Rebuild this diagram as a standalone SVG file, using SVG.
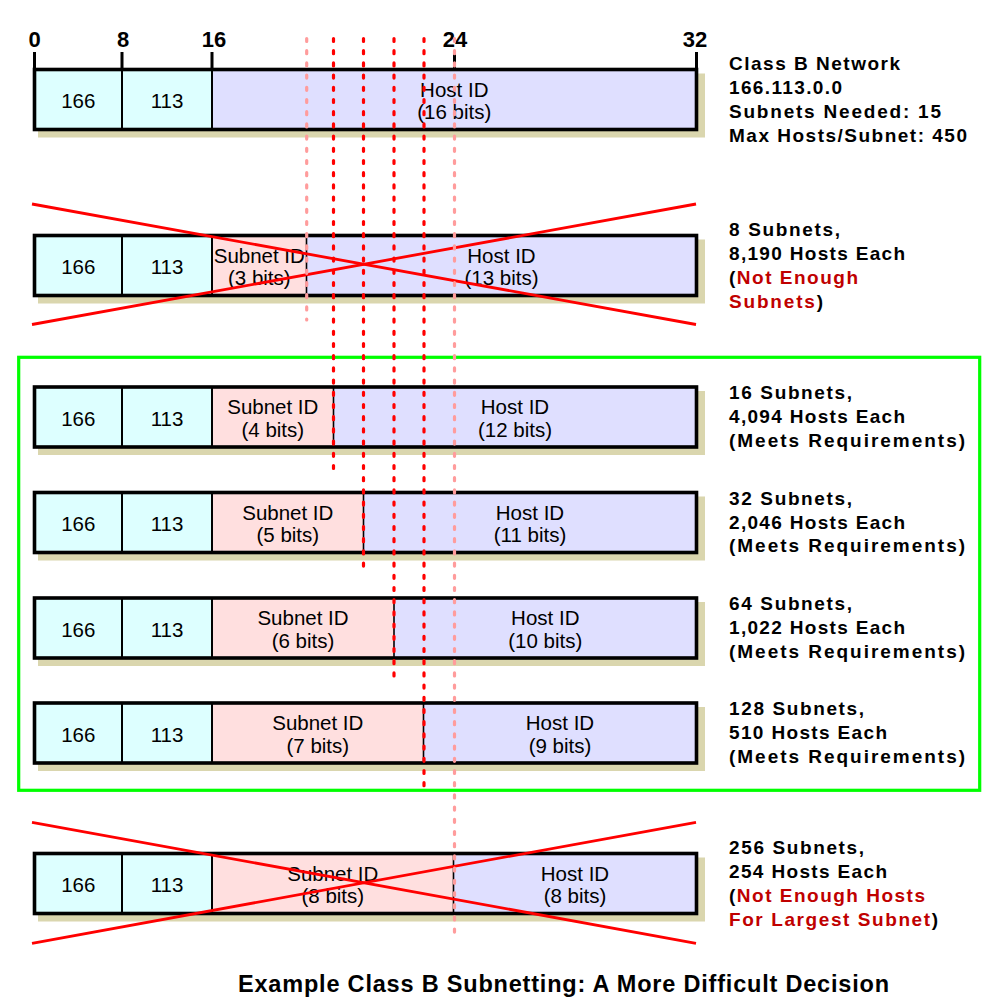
<svg xmlns="http://www.w3.org/2000/svg" width="1000" height="1001" viewBox="0 0 1000 1001">
<style>
text{font-family:"Liberation Sans",Arial,sans-serif;fill:#000}
.cell{font-size:20.5px;text-anchor:middle}
.side{font-size:19px;font-weight:bold}
.num{font-size:22px;font-weight:bold;text-anchor:middle}
.title{font-size:23.5px;font-weight:bold}
.red{fill:#C00000}
.shadow{fill:#DAD6AE}
.net{fill:#DDFFFF}
.sub{fill:#FFDFDF}
.host{fill:#DFDFFF}
.div{stroke:#000;stroke-width:2}
.sdiv{stroke:#000;stroke-width:1.6}
.outline{fill:none;stroke:#000;stroke-width:3.6}
.tick{stroke:#000;stroke-width:3}
.x{stroke:#FF0000;stroke-width:2.8}
.dr{stroke:#FF0000;stroke-width:3.2;stroke-dasharray:3 9.2;stroke-linecap:round;fill:none}
.dp{stroke:#FF9C9C;stroke-width:3.2;stroke-dasharray:3 9.2;stroke-linecap:round;fill:none}
.green{fill:none;stroke:#00FF00;stroke-width:3.2}
</style>

<g id="scale">
<line class="tick" x1="34.5" y1="52" x2="34.5" y2="70"/>
<line class="tick" x1="122" y1="52" x2="122" y2="70"/>
<line class="tick" x1="212" y1="52" x2="212" y2="70"/>
<line class="tick" x1="454.5" y1="54" x2="454.5" y2="70"/>
<line class="tick" x1="696.5" y1="52" x2="696.5" y2="70"/>
<text class="num" x="34.5" y="47">0</text>
<text class="num" x="123" y="47">8</text>
<text class="num" x="214" y="47">16</text>
<text class="num" x="455" y="47">24</text>
<text class="num" x="695" y="47">32</text>
</g>

<g id="row1">
<rect class="shadow" x="38" y="73.5" width="667" height="64"/>
<rect class="net" x="34.5" y="69.5" width="87.5" height="60"/>
<rect class="net" x="122" y="69.5" width="90" height="60"/>
<rect class="host" x="212" y="69.5" width="484.5" height="60"/>
<line class="div" x1="122" y1="69.5" x2="122" y2="129.5"/>
<line class="div" x1="212" y1="69.5" x2="212" y2="129.5"/>
<rect class="outline" x="34.5" y="69.5" width="662" height="60"/>
<text class="cell" x="78.3" y="108">166</text>
<text class="cell" x="167" y="108">113</text>
<text class="cell" x="454.3" y="96.5">Host ID</text>
<text class="cell" x="454.3" y="119.3">(16 bits)</text>
</g>

<g id="row2">
<rect class="shadow" x="38" y="239.5" width="667" height="64"/>
<rect class="net" x="34.5" y="235.5" width="87.5" height="60"/>
<rect class="net" x="122" y="235.5" width="90" height="60"/>
<rect class="sub" x="212" y="235.5" width="94.5" height="60"/>
<rect class="host" x="306.5" y="235.5" width="390" height="60"/>
<line class="div" x1="122" y1="235.5" x2="122" y2="295.5"/>
<line class="div" x1="212" y1="235.5" x2="212" y2="295.5"/>
<line class="sdiv" x1="306.5" y1="235.5" x2="306.5" y2="295.5"/>
<rect class="outline" x="34.5" y="235.5" width="662" height="60"/>
<text class="cell" x="78.3" y="274">166</text>
<text class="cell" x="167" y="274">113</text>
<text class="cell" x="259.3" y="262.5">Subnet ID</text>
<text class="cell" x="259.3" y="285.3">(3 bits)</text>
<text class="cell" x="501.5" y="262.5">Host ID</text>
<text class="cell" x="501.5" y="285.3">(13 bits)</text>
</g>

<g id="row3">
<rect class="shadow" x="38" y="391" width="667" height="64"/>
<rect class="net" x="34.5" y="387" width="87.5" height="60"/>
<rect class="net" x="122" y="387" width="90" height="60"/>
<rect class="sub" x="212" y="387" width="121.5" height="60"/>
<rect class="host" x="333.5" y="387" width="363" height="60"/>
<line class="div" x1="122" y1="387" x2="122" y2="447"/>
<line class="div" x1="212" y1="387" x2="212" y2="447"/>
<line class="sdiv" x1="333.5" y1="387" x2="333.5" y2="447"/>
<rect class="outline" x="34.5" y="387" width="662" height="60"/>
<text class="cell" x="78.3" y="425.5">166</text>
<text class="cell" x="167" y="425.5">113</text>
<text class="cell" x="272.8" y="414">Subnet ID</text>
<text class="cell" x="272.8" y="436.8">(4 bits)</text>
<text class="cell" x="515" y="414">Host ID</text>
<text class="cell" x="515" y="436.8">(12 bits)</text>
</g>

<g id="row4">
<rect class="shadow" x="38" y="496.5" width="667" height="64"/>
<rect class="net" x="34.5" y="492.5" width="87.5" height="60"/>
<rect class="net" x="122" y="492.5" width="90" height="60"/>
<rect class="sub" x="212" y="492.5" width="151.5" height="60"/>
<rect class="host" x="363.5" y="492.5" width="333" height="60"/>
<line class="div" x1="122" y1="492.5" x2="122" y2="552.5"/>
<line class="div" x1="212" y1="492.5" x2="212" y2="552.5"/>
<line class="sdiv" x1="363.5" y1="492.5" x2="363.5" y2="552.5"/>
<rect class="outline" x="34.5" y="492.5" width="662" height="60"/>
<text class="cell" x="78.3" y="531">166</text>
<text class="cell" x="167" y="531">113</text>
<text class="cell" x="287.8" y="519.5">Subnet ID</text>
<text class="cell" x="287.8" y="542.3">(5 bits)</text>
<text class="cell" x="530" y="519.5">Host ID</text>
<text class="cell" x="530" y="542.3">(11 bits)</text>
</g>

<g id="row5">
<rect class="shadow" x="38" y="602" width="667" height="64"/>
<rect class="net" x="34.5" y="598" width="87.5" height="60"/>
<rect class="net" x="122" y="598" width="90" height="60"/>
<rect class="sub" x="212" y="598" width="182" height="60"/>
<rect class="host" x="394" y="598" width="302.5" height="60"/>
<line class="div" x1="122" y1="598" x2="122" y2="658"/>
<line class="div" x1="212" y1="598" x2="212" y2="658"/>
<line class="sdiv" x1="394" y1="598" x2="394" y2="658"/>
<rect class="outline" x="34.5" y="598" width="662" height="60"/>
<text class="cell" x="78.3" y="636.5">166</text>
<text class="cell" x="167" y="636.5">113</text>
<text class="cell" x="303" y="625">Subnet ID</text>
<text class="cell" x="303" y="647.8">(6 bits)</text>
<text class="cell" x="545.3" y="625">Host ID</text>
<text class="cell" x="545.3" y="647.8">(10 bits)</text>
</g>

<g id="row6">
<rect class="shadow" x="38" y="707" width="667" height="64"/>
<rect class="net" x="34.5" y="703" width="87.5" height="60"/>
<rect class="net" x="122" y="703" width="90" height="60"/>
<rect class="sub" x="212" y="703" width="211.5" height="60"/>
<rect class="host" x="423.5" y="703" width="273" height="60"/>
<line class="div" x1="122" y1="703" x2="122" y2="763"/>
<line class="div" x1="212" y1="703" x2="212" y2="763"/>
<line class="sdiv" x1="423.5" y1="703" x2="423.5" y2="763"/>
<rect class="outline" x="34.5" y="703" width="662" height="60"/>
<text class="cell" x="78.3" y="741.5">166</text>
<text class="cell" x="167" y="741.5">113</text>
<text class="cell" x="317.8" y="730">Subnet ID</text>
<text class="cell" x="317.8" y="752.8">(7 bits)</text>
<text class="cell" x="560" y="730">Host ID</text>
<text class="cell" x="560" y="752.8">(9 bits)</text>
</g>

<g id="row7">
<rect class="shadow" x="38" y="857.5" width="667" height="64"/>
<rect class="net" x="34.5" y="853.5" width="87.5" height="60"/>
<rect class="net" x="122" y="853.5" width="90" height="60"/>
<rect class="sub" x="212" y="853.5" width="241.5" height="60"/>
<rect class="host" x="453.5" y="853.5" width="243" height="60"/>
<line class="div" x1="122" y1="853.5" x2="122" y2="913.5"/>
<line class="div" x1="212" y1="853.5" x2="212" y2="913.5"/>
<line class="sdiv" x1="453.5" y1="853.5" x2="453.5" y2="913.5"/>
<rect class="outline" x="34.5" y="853.5" width="662" height="60"/>
<text class="cell" x="78.3" y="892">166</text>
<text class="cell" x="167" y="892">113</text>
<text class="cell" x="332.8" y="880.5">Subnet ID</text>
<text class="cell" x="332.8" y="903.3">(8 bits)</text>
<text class="cell" x="575" y="880.5">Host ID</text>
<text class="cell" x="575" y="903.3">(8 bits)</text>
</g>

<g id="meets-box">
<rect class="green" x="18.7" y="357.3" width="961" height="433"/>
</g>

<g id="rejects">
<line class="x" x1="32" y1="204" x2="696" y2="324.5"/>
<line class="x" x1="32" y1="324.5" x2="696" y2="204"/>
<line class="x" x1="32" y1="822.3" x2="696" y2="943.3"/>
<line class="x" x1="32" y1="943.3" x2="696" y2="822.3"/>
</g>

<g id="connectors">
<line class="dp" x1="306.7" y1="38.5" x2="306.7" y2="320"/>
<line class="dr" x1="333.5" y1="38.5" x2="333.5" y2="477"/>
<line class="dr" x1="363.5" y1="38.5" x2="363.5" y2="573"/>
<line class="dr" x1="394" y1="38.5" x2="394" y2="682"/>
<line class="dr" x1="424" y1="38.5" x2="424" y2="790"/>
<line class="dp" x1="454.5" y1="38.5" x2="454.5" y2="935"/>
</g>

<g id="info1">
<text class="side" x="729" y="70.3" textLength="171" lengthAdjust="spacing">Class B Network</text>
<text class="side" x="729" y="94.3" textLength="113" lengthAdjust="spacing">166.113.0.0</text>
<text class="side" x="729" y="118.3" textLength="212" lengthAdjust="spacing">Subnets Needed: 15</text>
<text class="side" x="729" y="142.3" textLength="238" lengthAdjust="spacing">Max Hosts/Subnet: 450</text>
</g>
<g id="info2">
<text class="side" x="729" y="236.2" textLength="111" lengthAdjust="spacing">8 Subnets,</text>
<text class="side" x="729" y="260.2" textLength="176" lengthAdjust="spacing">8,190 Hosts Each</text>
<text class="side" x="729" y="284.2" textLength="129" lengthAdjust="spacing">(<tspan class="red">Not Enough</tspan></text>
<text class="side" x="729" y="308.2" textLength="94" lengthAdjust="spacing"><tspan class="red">Subnets</tspan>)</text>
</g>
<g id="info3">
<text class="side" x="729" y="399" textLength="123" lengthAdjust="spacing">16 Subnets,</text>
<text class="side" x="729" y="423" textLength="176" lengthAdjust="spacing">4,094 Hosts Each</text>
<text class="side" x="729" y="446.8" textLength="236" lengthAdjust="spacing">(Meets Requirements)</text>
</g>
<g id="info4">
<text class="side" x="729" y="504.5" textLength="123" lengthAdjust="spacing">32 Subnets,</text>
<text class="side" x="729" y="528.5" textLength="176" lengthAdjust="spacing">2,046 Hosts Each</text>
<text class="side" x="729" y="552.3" textLength="236" lengthAdjust="spacing">(Meets Requirements)</text>
</g>
<g id="info5">
<text class="side" x="729" y="610" textLength="123" lengthAdjust="spacing">64 Subnets,</text>
<text class="side" x="729" y="634" textLength="176" lengthAdjust="spacing">1,022 Hosts Each</text>
<text class="side" x="729" y="657.8" textLength="236" lengthAdjust="spacing">(Meets Requirements)</text>
</g>
<g id="info6">
<text class="side" x="729" y="715" textLength="135" lengthAdjust="spacing">128 Subnets,</text>
<text class="side" x="729" y="739" textLength="158" lengthAdjust="spacing">510 Hosts Each</text>
<text class="side" x="729" y="763" textLength="236" lengthAdjust="spacing">(Meets Requirements)</text>
</g>
<g id="info7">
<text class="side" x="729" y="853.5" textLength="135" lengthAdjust="spacing">256 Subnets,</text>
<text class="side" x="729" y="877.5" textLength="158" lengthAdjust="spacing">254 Hosts Each</text>
<text class="side" x="729" y="901.5" textLength="196" lengthAdjust="spacing">(<tspan class="red">Not Enough Hosts</tspan></text>
<text class="side" x="729" y="925.5" textLength="209" lengthAdjust="spacing"><tspan class="red">For Largest Subnet</tspan>)</text>
</g>

<g id="caption">
<text class="title" x="238" y="992" textLength="651" lengthAdjust="spacing">Example Class B Subnetting: A More Difficult Decision</text>
</g>
</svg>
